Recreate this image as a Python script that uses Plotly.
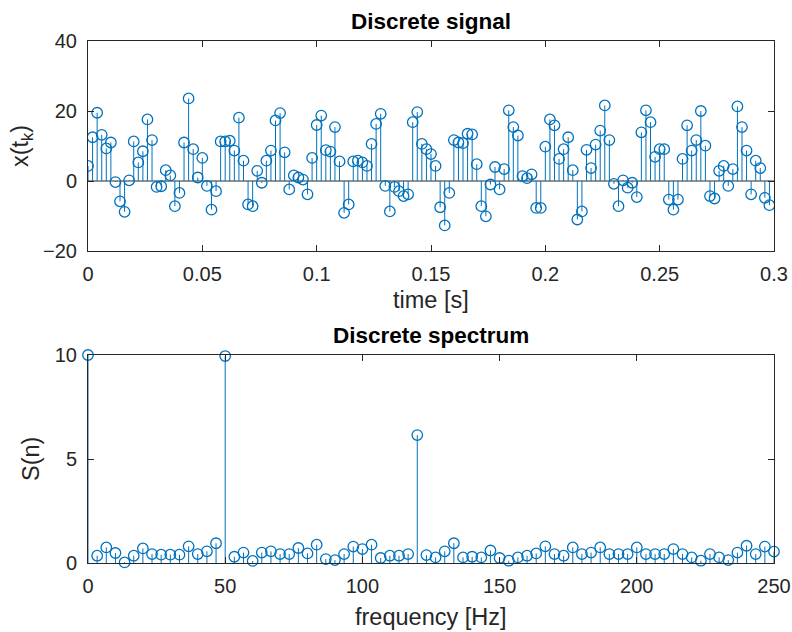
import plotly.graph_objects as go

# ---- data ----
fs = 500.0
signal_values = [
    4.3, 12.5, 19.5, 13.2, 9.3, 11, -0.3, -5.8, -8.8, 0.2,
    11.3, 5.3, 8.5, 17.6, 11.7, -1.7, -1.5, 3.1, 1.6, -7.2,
    -3.4, 11, 23.6, 9.1, 1.0, 6.6, -1.4, -8.2, -2.9, 11.3,
    11.3, 11.5, 8.7, 18.1, 5.8, -6.7, -7.2, 2.9, -0.5, 5.8,
    8.7, 17.3, 19.4, 8.2, -2.4, 1.6, 1.0, 0.4, -3.8, 6.6,
    16, 18.7, 8.8, 8.4, 15.4, 5.6, -9.1, -6.7, 5.6, 5.8,
    5.3, 4.3, 10.6, 16.3, 19.2, -1.4, -8.7, -1.7, -2.9, -4.3,
    -3.8, 16.8, 19.7, 10.6, 9.1, 7.7, 4.3, -7.5, -12.7, -3.4,
    11.7, 11, 10.8, 13.5, 13.3, 4.8, -7.2, -10.1, -1, 4,
    -2.4, 3.4, 20.2, 15.4, 13, 1.4, 0.8, 1.9, -7.7, -7.7,
    9.8, 17.6, 15.9, 6.3, 9.1, 12.5, 3.1, -11, -8.7, 8.9,
    3.7, 10.4, 14.4, 21.6, 11.7, -0.8, -7.2, 0.2, -1.9, -0.5,
    -4.6, 13.9, 20.2, 16.8, 6.9, 9.1, 9.1, -5.3, -8.2, -5.3,
    6.3, 15.9, 8.7, 11.7, 20, 10.1, -4.3, -5, 2.9, 4.3,
    -1.4, 3.4, 21.3, 15.4, 8.7, -3.8, 5.8, 3.7, -4.8, -6.9,
]
time_s = [k / fs for k in range(len(signal_values))]

spectrum_values = [
    10, 0.35, 0.75, 0.48, 0.03, 0.35, 0.7, 0.43, 0.4, 0.4,
    0.4, 0.8, 0.43, 0.56, 0.95, 9.95, 0.3, 0.5, 0.1, 0.5,
    0.56, 0.43, 0.43, 0.72, 0.46, 0.88, 0.19, 0.14, 0.43, 0.79,
    0.67, 0.88, 0.24, 0.35, 0.35, 0.43, 6.15, 0.38, 0.27, 0.56,
    0.95, 0.27, 0.3, 0.27, 0.6, 0.24, 0.11, 0.27, 0.35, 0.46,
    0.8, 0.43, 0.35, 0.75, 0.43, 0.5, 0.75, 0.43, 0.43, 0.43,
    0.75, 0.43, 0.43, 0.43, 0.67, 0.43, 0.27, 0.11, 0.43, 0.27,
    0.14, 0.5, 0.83, 0.43, 0.79, 0.55,
]
n_samples = len(signal_values)
freq_hz = [n * fs / n_samples for n in range(len(spectrum_values))]

time_ticks = [0, 0.05, 0.1, 0.15, 0.2, 0.25, 0.3]
time_ticktext = ["0", "0.05", "0.1", "0.15", "0.2", "0.25", "0.3"]
sig_ticks = [-20, 0, 20, 40]
freq_ticks = [0, 50, 100, 150, 200, 250]
spec_ticks = [0, 5, 10]

BLUE = "#0072BD"
AX = "#262626"
FONT = "Liberation Sans, Arial, sans-serif"


def stem_xy(xs, ys):
    sx, sy = [], []
    for x, y in zip(xs, ys):
        sx += [x, x, None]
        sy += [0, y, None]
    return sx, sy


marker_style = dict(symbol="circle-open", size=10.5, color=BLUE, line=dict(width=1.3))

fig = go.Figure()

sx, sy = stem_xy(time_s, signal_values)
fig.add_trace(go.Scatter(x=sx, y=sy, mode="lines", line=dict(color=BLUE, width=1),
                         xaxis="x", yaxis="y", hoverinfo="skip", showlegend=False))
fig.add_trace(go.Scatter(x=time_s, y=signal_values, mode="markers", marker=marker_style,
                         xaxis="x", yaxis="y", showlegend=False))

fx, fy = stem_xy(freq_hz, spectrum_values)
fig.add_trace(go.Scatter(x=fx, y=fy, mode="lines", line=dict(color=BLUE, width=1),
                         xaxis="x2", yaxis="y2", hoverinfo="skip", showlegend=False))
fig.add_trace(go.Scatter(x=freq_hz, y=spectrum_values, mode="markers", marker=marker_style,
                         xaxis="x2", yaxis="y2", cliponaxis=False, showlegend=False))

# baseline of the stem plot
fig.add_shape(type="line", xref="x domain", yref="y", x0=0, x1=1, y0=0, y1=0,
              line=dict(color=AX, width=1), layer="below")

axis_common = dict(showgrid=False, zeroline=False, showline=True, linecolor=AX, linewidth=1,
                   mirror="ticks", ticks="inside", ticklen=6, tickcolor=AX, tickwidth=1,
                   ticklabeloverflow="allow", automargin=False,
                   tickfont=dict(family=FONT, size=20, color=AX))

top_dom = [(563 - 251) / 522, 1.0]
bot_dom = [0.0, (563 - 355) / 522]

fig.update_layout(
    template="none",
    width=792, height=632, autosize=False,
    margin=dict(l=88, r=18, t=41, b=69, autoexpand=False),
    paper_bgcolor="white", plot_bgcolor="white",
    font=dict(family=FONT, color=AX),
    hovermode=False,
    xaxis=dict(domain=[0, 1], range=[0, 0.3], tickvals=time_ticks, ticktext=time_ticktext,
               anchor="y", ticklabelstandoff=5, **axis_common),
    yaxis=dict(domain=top_dom, range=[-20, 40], tickvals=sig_ticks, anchor="x",
               ticklabelstandoff=6, **axis_common),
    xaxis2=dict(domain=[0, 1], range=[0, 250], tickvals=freq_ticks, anchor="y2",
                ticklabelstandoff=5, **axis_common),
    yaxis2=dict(domain=bot_dom, range=[0, 10], tickvals=spec_ticks, anchor="x2",
                ticklabelstandoff=6, **axis_common),
)


def py(pix):
    return (563 - pix) / 522


def px(pix):
    return (pix - 88) / 686


annots = [
    dict(text="<b>Discrete signal</b>", x=0.5, y=py(22), size=22.5, color="black"),
    dict(text="<b>Discrete spectrum</b>", x=0.5, y=py(335), size=22.5, color="black"),
    dict(text="time [s]", x=0.5, y=py(300), size=23.5, color=AX),
    dict(text="frequency [Hz]", x=0.5, y=py(617), size=23.5, color=AX),
]
for a in annots:
    fig.add_annotation(text=a["text"], x=a["x"], y=a["y"], xref="paper", yref="paper",
                       xanchor="center", yanchor="middle", showarrow=False,
                       font=dict(family=FONT, size=a["size"], color=a["color"]))

fig.add_annotation(text="x(t<sub>k</sub>)", x=px(21), y=py(146), xref="paper", yref="paper",
                   xanchor="center", yanchor="middle", showarrow=False, textangle=-90,
                   font=dict(family=FONT, size=23.5, color=AX))
fig.add_annotation(text="S(n)", x=px(31), y=py(459), xref="paper", yref="paper",
                   xanchor="center", yanchor="middle", showarrow=False, textangle=-90,
                   font=dict(family=FONT, size=23.5, color=AX))

# remove the default 8px page margin so the 792x632 figure fills the window exactly
fig.write_html(
    "out.html",
    config={"displayModeBar": False, "responsive": False},
    post_script="document.body.style.margin='0';document.body.style.overflow='hidden';",
)
